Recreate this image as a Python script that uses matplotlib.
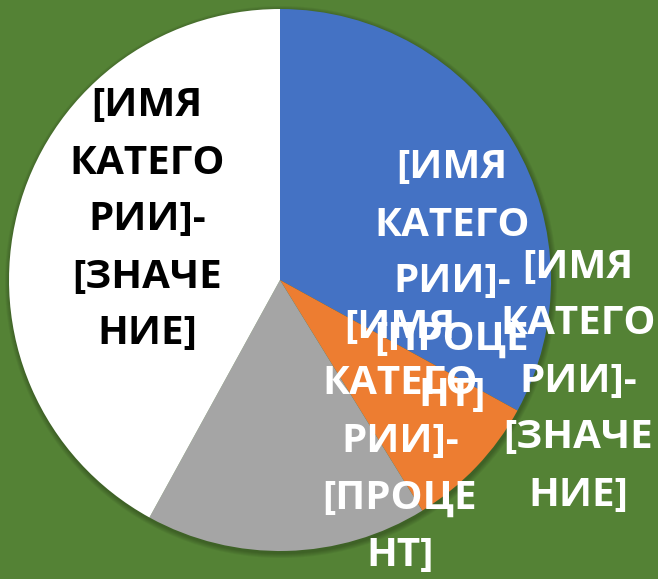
import matplotlib.pyplot as plt
import numpy as np

# slices, clockwise from 12 o'clock
categories = ['Кв. 1', 'Кв. 2', 'Кв. 3', 'Кв. 4']
values = [33, 8.2, 16.8, 42]
colors = ['#4472C4', '#ED7D31', '#A5A5A5', '#FFFFFF']

labels = [
    '[ИМЯ\nКАТЕГО\nРИИ]-\n[ПРОЦЕ\nНТ]',
    '[ИМЯ\nКАТЕГО\nРИИ]-\n[ПРОЦЕ\nНТ]',
    '[ИМЯ\nКАТЕГО\nРИИ]-\n[ЗНАЧЕ\nНИЕ]',
    '[ИМЯ\nКАТЕГО\nРИИ]-\n[ЗНАЧЕ\nНИЕ]',
]
label_colors = ['white', 'white', 'white', 'black']
# label centres in pixels (y from the bottom)
label_pos = [(452, 297), (400, 138), (578, 198), (147, 359)]

bg = '#548235'
W, H = 658, 579

fig = plt.figure(figsize=(W / 100, H / 100), dpi=100, facecolor=bg)
ax = fig.add_axes([0, 0, 1, 1])
ax.set_facecolor(bg)

cx, cy, r = 280, 299, 271

# soft shadow around the pie
for k in range(1, 6):
    ax.add_patch(plt.Circle((cx + 1, cy - 2), r + k, color='black', alpha=0.05, lw=0))

ax.pie(values, colors=colors, startangle=90, counterclock=False,
       center=(cx, cy), radius=r, frame=True,
       wedgeprops=dict(linewidth=0))
ax.set_xlim(0, W)
ax.set_ylim(0, H)
ax.set_aspect('equal')
ax.axis('off')

for txt, c, (x, y) in zip(labels, label_colors, label_pos):
    ax.text(x, y, txt, color=c, fontsize=29, fontweight='bold',
            family='Open Sans', ha='center', va='center',
            multialignment='center', linespacing=1.6)

fig.savefig('out.png', dpi=100, facecolor=bg)
